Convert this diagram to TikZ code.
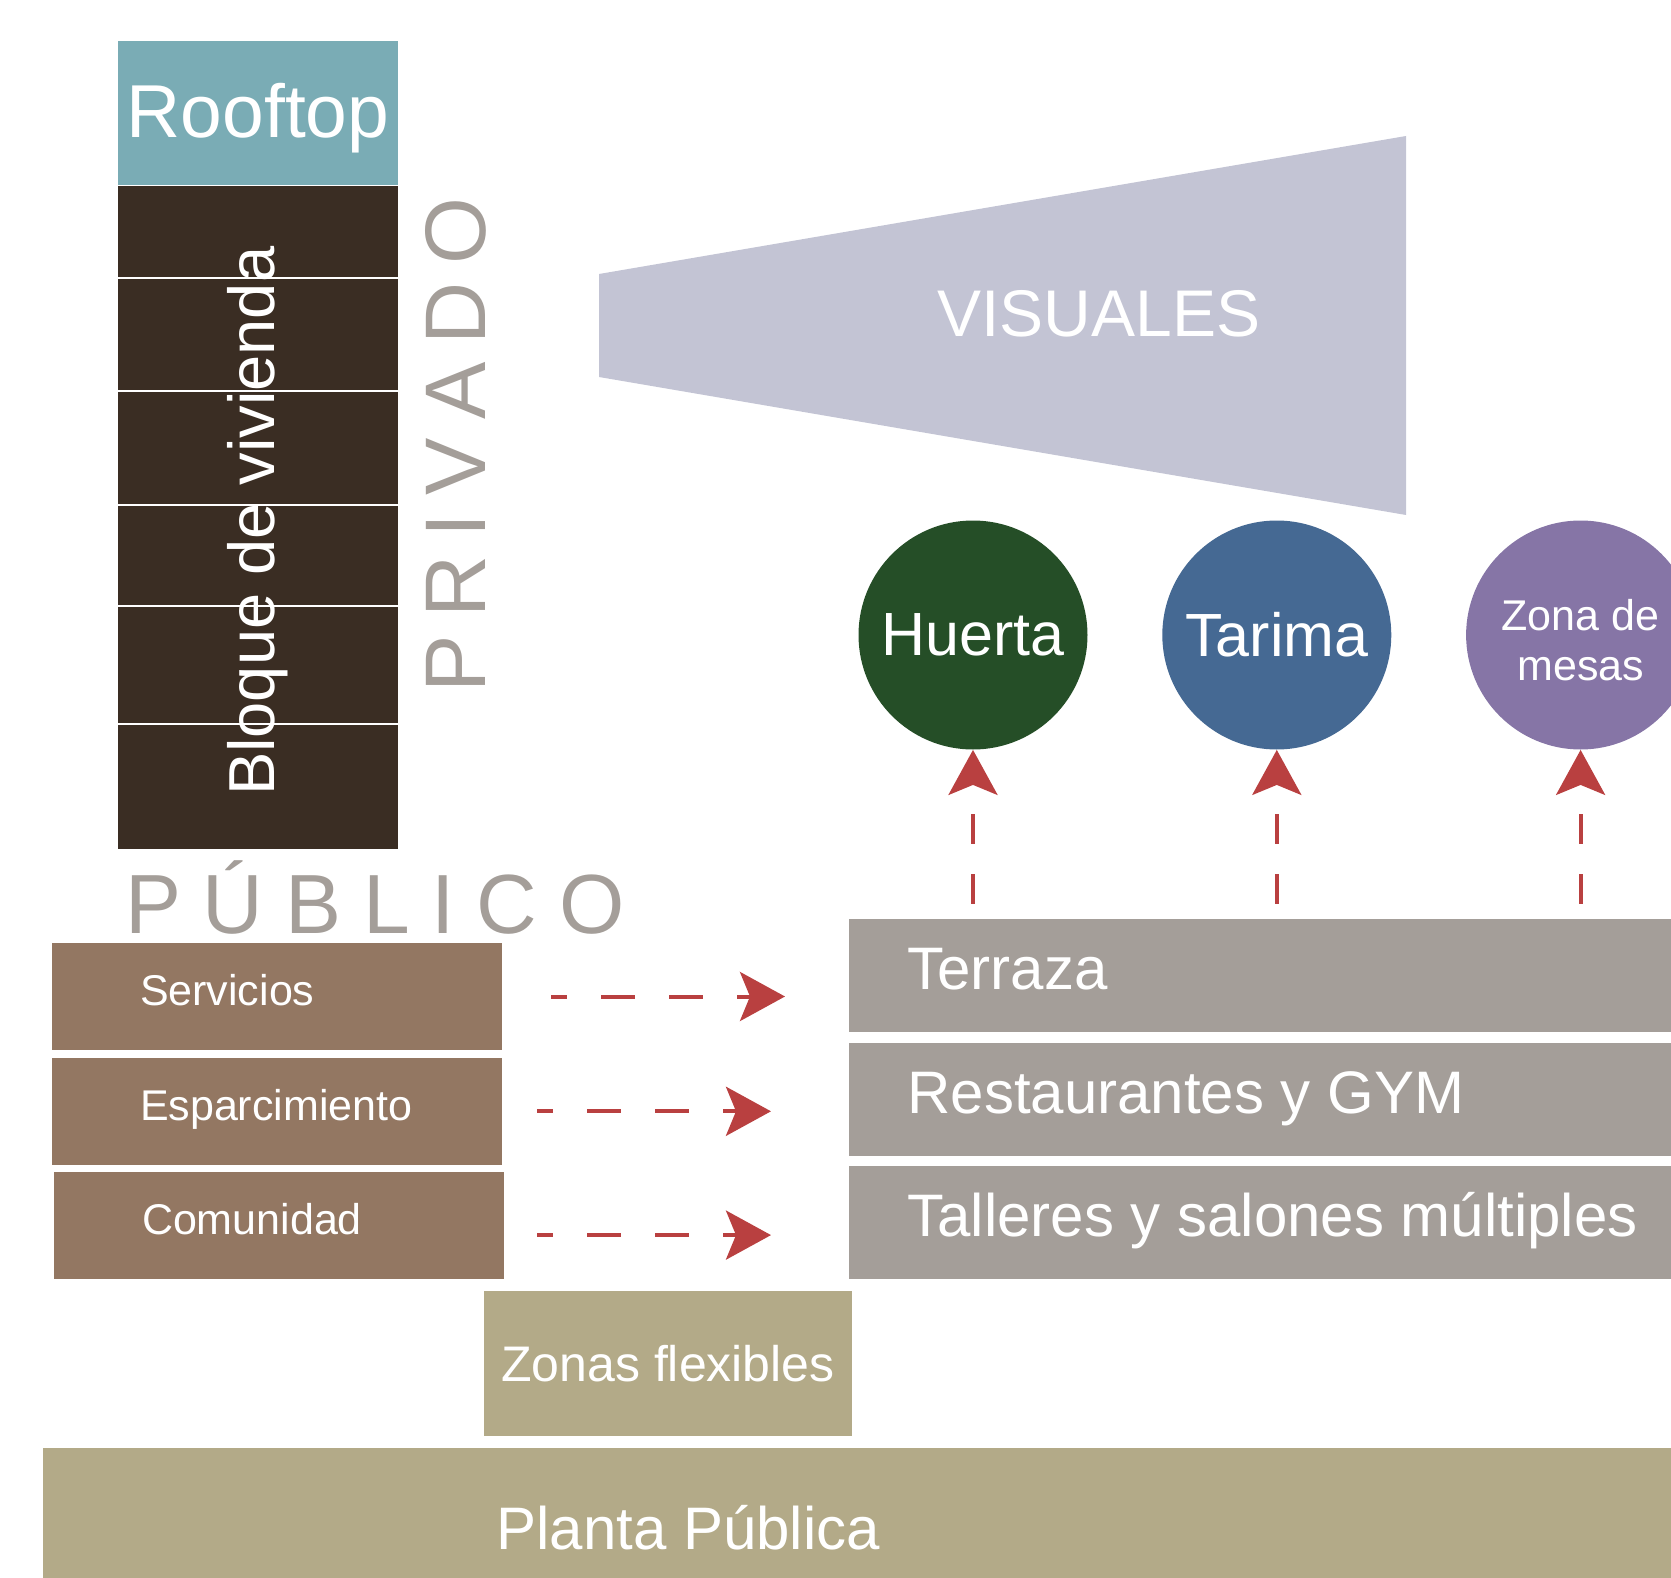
\documentclass[tikz,border=0pt]{standalone}
\usepackage{fontspec}
\setmainfont{Liberation Sans}
\usepackage{xcolor}
\definecolor{roofteal}{RGB}{122,172,181}
\definecolor{darkbrown}{RGB}{58,45,35}
\definecolor{visgray}{RGB}{195,196,212}
\definecolor{huertagreen}{RGB}{37,78,39}
\definecolor{tarimablue}{RGB}{69,105,147}
\definecolor{mesaspurple}{RGB}{134,117,166}
\definecolor{arrowred}{RGB}{185,64,64}
\definecolor{pubbrown}{RGB}{147,119,98}
\definecolor{warmgray}{RGB}{164,158,153}
\definecolor{khaki}{RGB}{179,170,136}
\usetikzlibrary{
    arrows.meta,
    positioning
}
\tikzstyle{block} = [
    rectangle,
    inner sep=0pt,
    text=white
]
\tikzstyle{pubbox} = [
    block,
    fill=pubbrown,
    minimum width=225pt,
    minimum height=53.5pt
]
\tikzstyle{gbox} = [
    block,
    fill=warmgray,
    minimum width=425.5pt,
    minimum height=56.5pt
]
\tikzstyle{spot} = [
    circle,
    inner sep=0pt,
    minimum size=114.5pt,
    text=white,
    align=center
]
\tikzstyle{publabel} = [
    anchor=west,
    inner sep=0pt,
    xshift=44pt,
    text=white,
    text height=15pt,
    text depth=5.6pt,
    font=\fontsize{21.5}{26}\selectfont
]
\tikzstyle{glabel} = [
    anchor=west,
    inner sep=0pt,
    xshift=29pt,
    text=white,
    text height=21.6pt,
    text depth=7.2pt,
    font=\fontsize{30}{36}\selectfont
]
\tikzstyle{zone} = [
    text=warmgray,
    inner sep=0pt,
    font=\fontsize{43}{50}\selectfont
]
\tikzstyle{flow} = [
    draw=arrowred,
    line width=2pt,
    dash pattern=on 17pt off 17pt,
    dash phase=9pt,
    -{Stealth[length=22.5pt, width=24.5pt, inset=5pt]}
]

\begin{document}
\begin{tikzpicture}[x=0.5pt, y=-0.5pt]
\useasboundingbox (0,0) rectangle (1671,1578);
\clip (0,0) rectangle (1671,1578);

% torre privada
\node (roof) [block, fill=roofteal, minimum width=140pt, minimum height=72pt]
    at (258,113) {};
\node (rooftxt) [text=white, anchor=base, font=\fontsize{37.5}{44}\selectfont]
    at (258,138) {Rooftop};
\node (viv) [block, fill=darkbrown, minimum width=140pt, minimum height=331.5pt,
    below=0pt of roof] {};
\foreach \y in {278,391,505,606,724}
    \draw [white, line width=1pt] (viv.west |- 0,\y) -- (viv.east |- 0,\y);
\node (bloque) [rotate=90, text=white, font=\fontsize{32.5}{40}\selectfont]
    at ([yshift=-2pt]viv.center) {Bloque de vivienda};

\node (priv) [zone, rotate=90, anchor=base] at (485,445)
    {P\kern.21em R\kern.21em I\kern.21em V\kern.21em A\kern.21em D\kern.21em O};
\node (pub) [zone, anchor=base, font=\fontsize{42}{50}\selectfont] at (375,933)
    {P\kern.26em Ú\kern.26em B\kern.26em L\kern.26em I\kern.26em C\kern.26em O};

% visuales
\fill [visgray] (599,274) -- (1406,136) -- (1406,515) -- (599,377) -- cycle;
\node (vis) [text=white, anchor=base, font=\fontsize{33}{40}\selectfont]
    at (1099,336) {VISUALES};

\node (huerta) [spot, fill=huertagreen, font=\fontsize{30.5}{36}\selectfont]
    at (973,635) {Huerta};
\node (tarima) [spot, fill=tarimablue, font=\fontsize{30.5}{36}\selectfont,
    right=37pt of huerta] {Tarima};
\node (mesas) [spot, fill=mesaspurple, right=37pt of tarima,
    label={[text=white, align=center, yshift=-2.5pt,
    font=\fontsize{21.5}{25}\selectfont]center:Zona de\\mesas}] {};

% planta publica
\node (serv) [pubbox, label={[publabel]west:Servicios}] at (277,996.5) {};
\node (espar) [pubbox, below=3.5pt of serv, label={[publabel]west:Esparcimiento}] {};
\node (comu) [pubbox, below=3pt of espar, xshift=1pt, label={[publabel]west:Comunidad}] {};

\node (terr) [gbox, anchor=west, label={[glabel]west:Terraza}] at (849,975.5) {};
\node (rest) [gbox, below=5pt of terr, label={[glabel]west:Restaurantes y GYM}] {};
\node (tall) [gbox, below=4.5pt of rest, label={[glabel]west:Talleres y salones múltiples}] {};

\node (flex) [block, fill=khaki, minimum width=184pt, minimum height=72.5pt,
    font=\fontsize{25}{30}\selectfont] at (668,1363.5) {Zonas flexibles};
\node (planta) [block, fill=khaki, anchor=north west, minimum width=828.5pt,
    minimum height=87pt, label={[glabel, xshift=197.5pt]west:Planta Pública}]
    at (43,1448) {};

\draw [flow, shorten <=24.5pt, shorten >=32pt] (serv.east) -- (serv.east -| terr.west);
\draw [flow, shorten <=17.5pt, shorten >=39pt] (espar.east) -- (espar.east -| rest.west);
\draw [flow, shorten <=16.5pt, shorten >=39pt]
    ([yshift=-5pt]comu.east) -- ([yshift=-5pt]comu.east -| tall.west);

\foreach \s in {huerta, tarima, mesas}
    \draw [flow, dash pattern=on 15pt off 15pt, dash phase=22.5pt]
        (\s.south |- terr.north) -- (\s.south);

\end{tikzpicture}
\end{document}
